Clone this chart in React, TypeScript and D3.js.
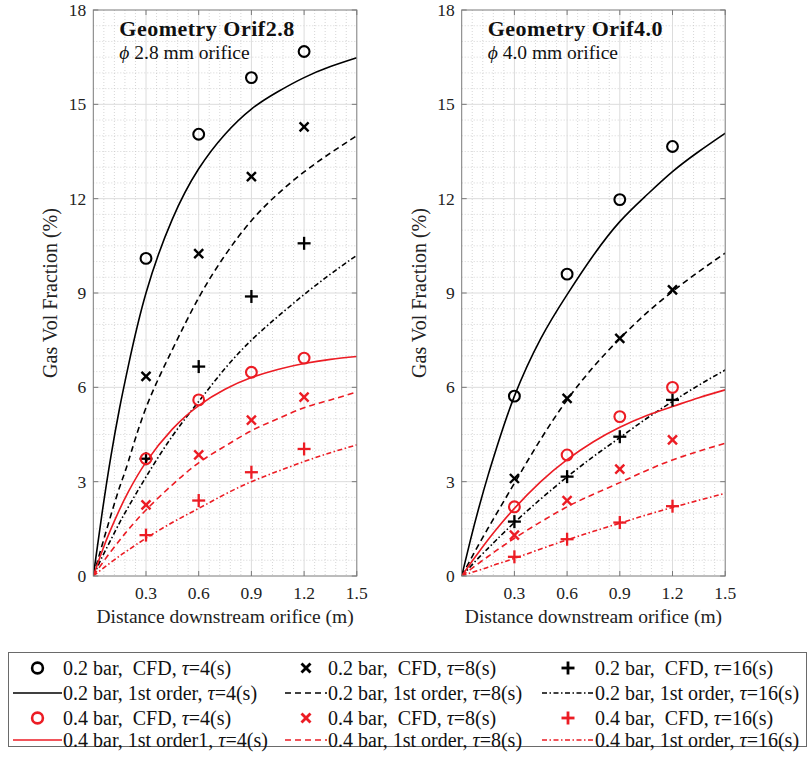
import React from 'react';
import * as d3 from 'd3';

// Sampling positions (m) along the pipe
const cfdDistances = [0.3, 0.6, 0.9, 1.2];
const modelDistances = [0, 0.05, 0.1, 0.15, 0.2, 0.3, 0.45, 0.6, 0.75, 0.9, 1.05, 1.2, 1.35, 1.5];

// Axis ticks
const xTicks = [0.3, 0.6, 0.9, 1.2, 1.5];
const yTicks = [0, 3, 6, 9, 12, 15, 18];

// Geometry Orif2.8 — CFD gas volume fraction (%)
const orif28Cfd02Tau4 = [10.1, 14.05, 15.85, 16.68];
const orif28Cfd02Tau8 = [6.35, 10.25, 12.7, 14.28];
const orif28Cfd02Tau16 = [3.73, 6.66, 8.89, 10.58];
const orif28Cfd04Tau4 = [3.73, 5.6, 6.48, 6.93];
const orif28Cfd04Tau8 = [2.26, 3.85, 4.96, 5.69];
const orif28Cfd04Tau16 = [1.3, 2.4, 3.3, 4.04];

// Geometry Orif2.8 — 1st order model (%)
const orif28Model02Tau4 = [0, 2.0, 3.8, 5.35, 6.7, 9.0, 11.35, 12.95, 14.05, 14.85, 15.4, 15.85, 16.2, 16.48];
const orif28Model02Tau8 = [0, 0.98, 1.93, 2.83, 3.65, 5.35, 7.2, 8.85, 10.2, 11.3, 12.15, 12.85, 13.45, 14.0];
const orif28Model02Tau16 = [0, 0.6, 1.15, 1.7, 2.2, 3.15, 4.45, 5.55, 6.6, 7.5, 8.25, 8.95, 9.6, 10.2];
const orif28Model04Tau4 = [0, 0.79, 1.49, 2.12, 2.68, 3.62, 4.67, 5.42, 5.94, 6.31, 6.57, 6.76, 6.89, 6.98];
const orif28Model04Tau8 = [0, 0.4, 0.78, 1.14, 1.48, 2.1, 2.9, 3.6, 4.13, 4.62, 5.0, 5.35, 5.6, 5.85];
const orif28Model04Tau16 = [0, 0.22, 0.43, 0.64, 0.83, 1.2, 1.7, 2.15, 2.6, 3.0, 3.33, 3.64, 3.92, 4.17];

// Geometry Orif4.0 — CFD gas volume fraction (%)
const orif40Cfd02Tau4 = [5.72, 9.6, 11.97, 13.66];
const orif40Cfd02Tau8 = [3.1, 5.65, 7.56, 9.1];
const orif40Cfd02Tau16 = [1.73, 3.16, 4.43, 5.6];
const orif40Cfd04Tau4 = [2.2, 3.85, 5.07, 6.0];
const orif40Cfd04Tau8 = [1.3, 2.4, 3.4, 4.33];
const orif40Cfd04Tau16 = [0.61, 1.17, 1.7, 2.22];

// Geometry Orif4.0 — 1st order model (%)
const orif40Model02Tau4 = [0, 1.15, 2.22, 3.2, 4.1, 5.72, 7.55, 8.95, 10.2, 11.27, 12.1, 12.86, 13.5, 14.08];
const orif40Model02Tau8 = [0, 0.52, 1.03, 1.52, 2.0, 2.95, 4.35, 5.6, 6.65, 7.55, 8.35, 9.05, 9.68, 10.27];
const orif40Model02Tau16 = [0, 0.3, 0.6, 0.88, 1.16, 1.7, 2.45, 3.15, 3.8, 4.4, 5.0, 5.55, 6.07, 6.55];
const orif40Model04Tau4 = [0, 0.4, 0.78, 1.15, 1.5, 2.15, 3.0, 3.7, 4.27, 4.73, 5.1, 5.39, 5.67, 5.92];
const orif40Model04Tau8 = [0, 0.21, 0.42, 0.62, 0.82, 1.2, 1.72, 2.2, 2.6, 2.97, 3.35, 3.69, 3.97, 4.22];
const orif40Model04Tau16 = [0, 0.1, 0.19, 0.28, 0.38, 0.56, 0.86, 1.15, 1.42, 1.68, 1.94, 2.18, 2.41, 2.63];

const BLACK = '#000000';
const RED = '#ec1c24';
const DASHED = '6,4';
const DASHDOT = '5,2.5,1.5,2.5';
const FONT = "'Liberation Serif', 'Times New Roman', serif";

type MarkerKind = 'o' | 'x' | '+';

function Marker({ kind, x, y, color, bold = false }: { kind: MarkerKind; x: number; y: number; color: string; bold?: boolean }) {
  const sw = bold ? 2.6 : 2.1;
  if (kind === 'o') return <circle cx={x} cy={y} r={5.4} fill="none" stroke={color} strokeWidth={sw} />;
  if (kind === 'x') {
    const s = 4.5;
    return (
      <g stroke={color} strokeWidth={sw + 0.3}>
        <line x1={x - s} y1={y - s} x2={x + s} y2={y + s} />
        <line x1={x - s} y1={y + s} x2={x + s} y2={y - s} />
      </g>
    );
  }
  const s = 6.5;
  return (
    <g stroke={color} strokeWidth={sw + 0.2}>
      <line x1={x - s} y1={y} x2={x + s} y2={y} />
      <line x1={x} y1={y - s} x2={x} y2={y + s} />
    </g>
  );
}

type PanelProps = {
  id: string;
  left: number;
  title: string;
  subtitle: string;
  cfd: { values: number[]; kind: MarkerKind; color: string }[];
  model: { values: number[]; color: string; dash: string | null }[];
};

const TOP = 10;
const BOTTOM = 576;
const WIDTH = 263.5;

function Panel({ id, left, title, subtitle, cfd, model }: PanelProps) {
  const x = d3.scaleLinear().domain([0, 1.5]).range([left, left + WIDTH]);
  const y = d3.scaleLinear().domain([0, 18]).range([BOTTOM, TOP]);
  const line = d3
    .line<number>()
    .x((_, i) => x(modelDistances[i]))
    .y((v) => y(v))
    .curve(d3.curveNatural);

  const minorX = d3.range(1, 25).map((i) => i * 0.06).filter((v, i) => (i + 1) % 5 !== 0);
  const minorY = d3.range(1, 36).map((i) => i * 0.5).filter((v) => Math.abs(v / 3 - Math.round(v / 3)) > 1e-6);
  const tick = 5;

  return (
    <g>
      <defs>
        <clipPath id={id}>
          <rect x={left} y={TOP} width={WIDTH} height={BOTTOM - TOP} />
        </clipPath>
      </defs>
      <rect x={left} y={TOP} width={WIDTH} height={BOTTOM - TOP} fill="#ffffff" />
      {/* minor grid */}
      <g stroke="#c4c4c4" strokeWidth={0.7} strokeDasharray="1,2">
        {minorX.map((v) => (
          <line key={'mx' + v} x1={x(v)} x2={x(v)} y1={TOP} y2={BOTTOM} />
        ))}
        {minorY.map((v) => (
          <line key={'my' + v} x1={left} x2={left + WIDTH} y1={y(v)} y2={y(v)} />
        ))}
      </g>
      {/* major grid */}
      <g stroke="#dcdcdc" strokeWidth={1}>
        {xTicks.slice(0, -1).map((v) => (
          <line key={'gx' + v} x1={x(v)} x2={x(v)} y1={TOP} y2={BOTTOM} />
        ))}
        {yTicks.slice(1, -1).map((v) => (
          <line key={'gy' + v} x1={left} x2={left + WIDTH} y1={y(v)} y2={y(v)} />
        ))}
      </g>
      {/* title */}
      <text x={left + 26} y={35.5} fontFamily={FONT} fontSize={22} letterSpacing={0.5} fontWeight="bold" fill="#111">
        {title}
      </text>
      <text x={left + 26} y={58.5} fontFamily={FONT} fontSize={19.5} fill="#111">
        <tspan fontStyle="italic">ϕ</tspan>
        {' ' + subtitle}
      </text>
      {/* model curves */}
      <g clipPath={`url(#${id})`} fill="none">
        {model.map((s, i) => (
          <path key={i} d={line(s.values) || ''} stroke={s.color} strokeWidth={1.6} strokeDasharray={s.dash || undefined} />
        ))}
      </g>
      {/* CFD points */}
      {cfd.map((s, i) =>
        s.values.map((v, j) => <Marker key={i + '-' + j} kind={s.kind} x={x(cfdDistances[j])} y={y(v)} color={s.color} />)
      )}
      {/* frame and ticks */}
      <rect x={left} y={TOP} width={WIDTH} height={BOTTOM - TOP} fill="none" stroke="#7a7a7a" strokeWidth={1} />
      <g stroke="#7a7a7a" strokeWidth={1}>
        {yTicks.map((v) => (
          <g key={'ty' + v}>
            <line x1={left} x2={left + tick} y1={y(v)} y2={y(v)} />
            <line x1={left + WIDTH - tick} x2={left + WIDTH} y1={y(v)} y2={y(v)} />
          </g>
        ))}
        {xTicks.map((v) => (
          <g key={'tx' + v}>
            <line x1={x(v)} x2={x(v)} y1={BOTTOM} y2={BOTTOM - tick} />
            <line x1={x(v)} x2={x(v)} y1={TOP} y2={TOP + tick} />
          </g>
        ))}
      </g>
      <g fontFamily={FONT} fontSize={17.5} fill="#222">
        {yTicks.map((v) => (
          <text key={'ly' + v} x={left - 7} y={y(v)} dy="0.35em" textAnchor="end">
            {v}
          </text>
        ))}
        {xTicks.map((v) => (
          <text key={'lx' + v} x={x(v)} y={BOTTOM + 23} textAnchor="middle">
            {v.toFixed(1)}
          </text>
        ))}
      </g>
      <text x={left + WIDTH / 2} y={623} textAnchor="middle" fontFamily={FONT} fontSize={19.5} fill="#222">
        Distance downstream orifice (m)
      </text>
      <text
        transform={`translate(${left - 36},${(TOP + BOTTOM) / 2}) rotate(-90)`}
        textAnchor="middle"
        fontFamily={FONT}
        fontSize={20}
        fill="#222"
      >
        Gas Vol Fraction (%)
      </text>
    </g>
  );
}

type LegendEntry = { kind: MarkerKind | null; dash: string | null; color: string; text: string; tau: string };

const legendColumns: LegendEntry[][] = [
  [
    { kind: 'o', dash: null, color: BLACK, text: '0.2 bar,  CFD, ', tau: '=4(s)' },
    { kind: null, dash: null, color: BLACK, text: '0.2 bar, 1st order, ', tau: '=4(s)' },
    { kind: 'o', dash: null, color: RED, text: '0.4 bar,  CFD, ', tau: '=4(s)' },
    { kind: null, dash: null, color: RED, text: '0.4 bar, 1st order1, ', tau: '=4(s)' },
  ],
  [
    { kind: 'x', dash: null, color: BLACK, text: '0.2 bar,  CFD, ', tau: '=8(s)' },
    { kind: null, dash: DASHED, color: BLACK, text: '0.2 bar, 1st order, ', tau: '=8(s)' },
    { kind: 'x', dash: null, color: RED, text: '0.4 bar,  CFD, ', tau: '=8(s)' },
    { kind: null, dash: DASHED, color: RED, text: '0.4 bar, 1st order, ', tau: '=8(s)' },
  ],
  [
    { kind: '+', dash: null, color: BLACK, text: '0.2 bar,  CFD, ', tau: '=16(s)' },
    { kind: null, dash: DASHDOT, color: BLACK, text: '0.2 bar, 1st order, ', tau: '=16(s)' },
    { kind: '+', dash: null, color: RED, text: '0.4 bar,  CFD, ', tau: '=16(s)' },
    { kind: null, dash: DASHDOT, color: RED, text: '0.4 bar, 1st order, ', tau: '=16(s)' },
  ],
];

const legendColX = [
  { lineStart: 13, lineEnd: 62, text: 63 },
  { lineStart: 285, lineEnd: 327, text: 328 },
  { lineStart: 542, lineEnd: 594, text: 595 },
];
const legendRowY = [668, 693, 718, 740];

function Legend() {
  return (
    <g>
      <rect x={8.5} y={652.5} width={798} height={94} fill="#ffffff" stroke="#6a6a6a" strokeWidth={1} />
      {legendColumns.map((col, ci) =>
        col.map((e, ri) => {
          const c = legendColX[ci];
          const cy = legendRowY[ri];
          return (
            <g key={ci + '-' + ri}>
              {e.kind ? (
                <Marker kind={e.kind} x={(c.lineStart + c.lineEnd) / 2} y={cy} color={e.color} bold />
              ) : (
                <line
                  x1={c.lineStart}
                  x2={c.lineEnd}
                  y1={cy}
                  y2={cy}
                  stroke={e.color}
                  strokeWidth={1.6}
                  strokeDasharray={e.dash || undefined}
                />
              )}
              <text x={c.text} y={cy} dy="0.33em" fontFamily={FONT} fontSize={20} fill="#111" style={{ whiteSpace: 'pre' }}>
                {e.text}
                <tspan fontStyle="italic">τ</tspan>
                {e.tau}
              </text>
            </g>
          );
        })
      )}
    </g>
  );
}

export default function App() {
  return (
    <svg
      width={810}
      height={757}
      viewBox="0 0 810 757"
      style={{ position: 'absolute', left: 0, top: 0, background: '#ffffff' }}
    >
      <rect width={810} height={757} fill="#ffffff" />
      <Panel
        id="clip-orif28"
        left={93.3}
        title="Geometry Orif2.8"
        subtitle="2.8 mm orifice"
        cfd={[
          { values: orif28Cfd02Tau4, kind: 'o', color: BLACK },
          { values: orif28Cfd02Tau8, kind: 'x', color: BLACK },
          { values: orif28Cfd02Tau16, kind: '+', color: BLACK },
          { values: orif28Cfd04Tau4, kind: 'o', color: RED },
          { values: orif28Cfd04Tau8, kind: 'x', color: RED },
          { values: orif28Cfd04Tau16, kind: '+', color: RED },
        ]}
        model={[
          { values: orif28Model02Tau4, color: BLACK, dash: null },
          { values: orif28Model02Tau8, color: BLACK, dash: DASHED },
          { values: orif28Model02Tau16, color: BLACK, dash: DASHDOT },
          { values: orif28Model04Tau4, color: RED, dash: null },
          { values: orif28Model04Tau8, color: RED, dash: DASHED },
          { values: orif28Model04Tau16, color: RED, dash: DASHDOT },
        ]}
      />
      <Panel
        id="clip-orif40"
        left={461.7}
        title="Geometry Orif4.0"
        subtitle="4.0 mm orifice"
        cfd={[
          { values: orif40Cfd02Tau4, kind: 'o', color: BLACK },
          { values: orif40Cfd02Tau8, kind: 'x', color: BLACK },
          { values: orif40Cfd02Tau16, kind: '+', color: BLACK },
          { values: orif40Cfd04Tau4, kind: 'o', color: RED },
          { values: orif40Cfd04Tau8, kind: 'x', color: RED },
          { values: orif40Cfd04Tau16, kind: '+', color: RED },
        ]}
        model={[
          { values: orif40Model02Tau4, color: BLACK, dash: null },
          { values: orif40Model02Tau8, color: BLACK, dash: DASHED },
          { values: orif40Model02Tau16, color: BLACK, dash: DASHDOT },
          { values: orif40Model04Tau4, color: RED, dash: null },
          { values: orif40Model04Tau8, color: RED, dash: DASHED },
          { values: orif40Model04Tau16, color: RED, dash: DASHDOT },
        ]}
      />
      <Legend />
    </svg>
  );
}
